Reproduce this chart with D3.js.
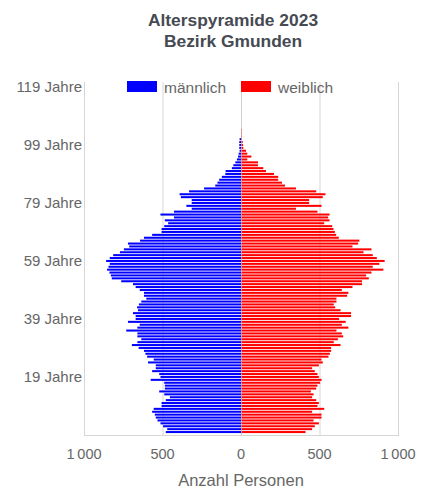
<!DOCTYPE html>
<html><head><meta charset="utf-8">
<script src="https://cdn.jsdelivr.net/npm/d3@7"></script>
<style>
html,body{margin:0;padding:0;background:#fff;}
svg{display:block;font-family:"Liberation Sans",Arial,sans-serif;}
</style></head>
<body>
<svg id="chart" width="423" height="488"></svg>
<script>
// Data: persons per age year (index = age), Bezirk Gmunden 2023
const male = [479,470,496,513,532,543,549,566,556,506,
  506,479,453,489,521,485,485,489,575,513,
  521,566,543,543,592,556,598,609,618,652,
  695,660,635,660,660,731,660,645,720,671,
  671,688,656,662,650,635,603,618,618,645,
  671,688,763,823,829,838,853,844,836,859,
  836,814,771,746,712,720,643,618,566,506,
  506,489,464,485,427,513,427,314,348,314,
  314,383,391,331,235,164,150,139,122,100,
  98,58,49,36,26,19,15,9,11,11,
  11,9];
const female = [411,453,470,496,462,513,513,453,530,487,
  496,479,453,462,445,479,487,504,513,496,
  487,470,453,496,521,513,557,566,574,574,
  634,591,617,651,642,608,684,642,667,625,
  701,701,634,600,591,608,608,676,684,642,
  710,771,771,814,797,831,907,839,881,915,
  865,839,780,831,710,746,754,623,606,598,
  589,581,530,564,555,564,487,350,513,434,
  434,521,538,479,350,280,261,237,237,210,
  159,142,108,108,40,66,40,32,15,13,
  11,6,6,6,6];
const yTickAges = [119,99,79,59,39,19];
const xTicks = [-1000,-500,0,500,1000];
const seriesNames = ["männlich","weiblich"];
const seriesColors = ["#0000ff","#ff0000"];
const titleLines = ["Alterspyramide 2023","Bezirk Gmunden"];
const xTitle = "Anzahl Personen";

(function(){
const svg = d3.select("#chart");
const pL = 84, pR = 398, pT = 82, pB = 435;

const ages = d3.range(0,120);
const y = d3.scaleBand().domain(ages).range([433.5, 85.5]).paddingInner(0.3).paddingOuter(0.15);
const x = d3.scaleLinear().domain([-1000,1000]).range([pL,pR]);

const loc = d3.formatLocale({decimal:",", thousands:"\u2009", grouping:[3], currency:["","€"]});
const fmt = loc.format(",d");

// gridlines
svg.append("g").selectAll("line").data(xTicks).join("line")
  .attr("x1",d=>x(d)+0.5).attr("x2",d=>x(d)+0.5)
  .attr("y1",pT).attr("y2",pB)
  .attr("stroke","#d6d6d6").attr("stroke-width",1);
// bottom baseline
svg.append("line").attr("x1",pL).attr("x2",pR+1)
  .attr("y1",pB+0.5).attr("y2",pB+0.5)
  .attr("stroke","#d6d6d6");

// bars
const bw = y.bandwidth();
svg.append("g").selectAll("rect").data(male.map((v,i)=>({age:i,v})).filter(d=>d.v>0)).join("rect")
  .attr("x",d=>x(-d.v)).attr("width",d=>x(0)-x(-d.v))
  .attr("y",d=>y(d.age)).attr("height",bw)
  .attr("fill",seriesColors[0]);
svg.append("g").selectAll("rect").data(female.map((v,i)=>({age:i,v})).filter(d=>d.v>0)).join("rect")
  .attr("x",x(0)).attr("width",d=>x(d.v)-x(0))
  .attr("y",d=>y(d.age)).attr("height",bw)
  .attr("fill",seriesColors[1]);

// zero line
svg.append("line").attr("x1",x(0)+0.5).attr("x2",x(0)+0.5).attr("y1",pT).attr("y2",pB)
  .attr("stroke","#cccccc").attr("stroke-opacity",0.6);

// y labels
svg.append("g").selectAll("text").data(yTickAges).join("text")
  .attr("x",82).attr("y",d=>y(d)+y.bandwidth()/2).attr("dy","0.35em")
  .attr("text-anchor","end").attr("font-size",15).attr("fill","#666")
  .text(d=>d+" Jahre");

// x labels
svg.append("g").selectAll("text").data(xTicks).join("text")
  .attr("x",d=>x(d)).attr("y",459)
  .attr("text-anchor","middle").attr("font-size",14.5).attr("fill","#666")
  .text(d=>fmt(Math.abs(d)));

svg.append("text").attr("x",x(0)).attr("y",486).attr("text-anchor","middle")
  .attr("font-size",16.5).attr("fill","#666").text(xTitle);

// title
svg.append("g").selectAll("text").data(titleLines).join("text")
  .attr("x",233).attr("y",(d,i)=>26+i*21).attr("text-anchor","middle")
  .attr("font-size",17.4).attr("font-weight","bold").attr("fill","#464a52").text(d=>d);

// legend
const legX = [127,241];
const lg = svg.append("g").selectAll("g").data(seriesNames).join("g")
  .attr("transform",(d,i)=>`translate(${legX[i]},81)`);
lg.append("rect").attr("width",30).attr("height",11).attr("fill",(d,i)=>seriesColors[i]);
lg.append("text").attr("x",37).attr("y",6.5).attr("dy","0.35em").attr("font-size",15.5)
  .attr("fill","#666").text(d=>d);
})();
</script>
</body></html>
